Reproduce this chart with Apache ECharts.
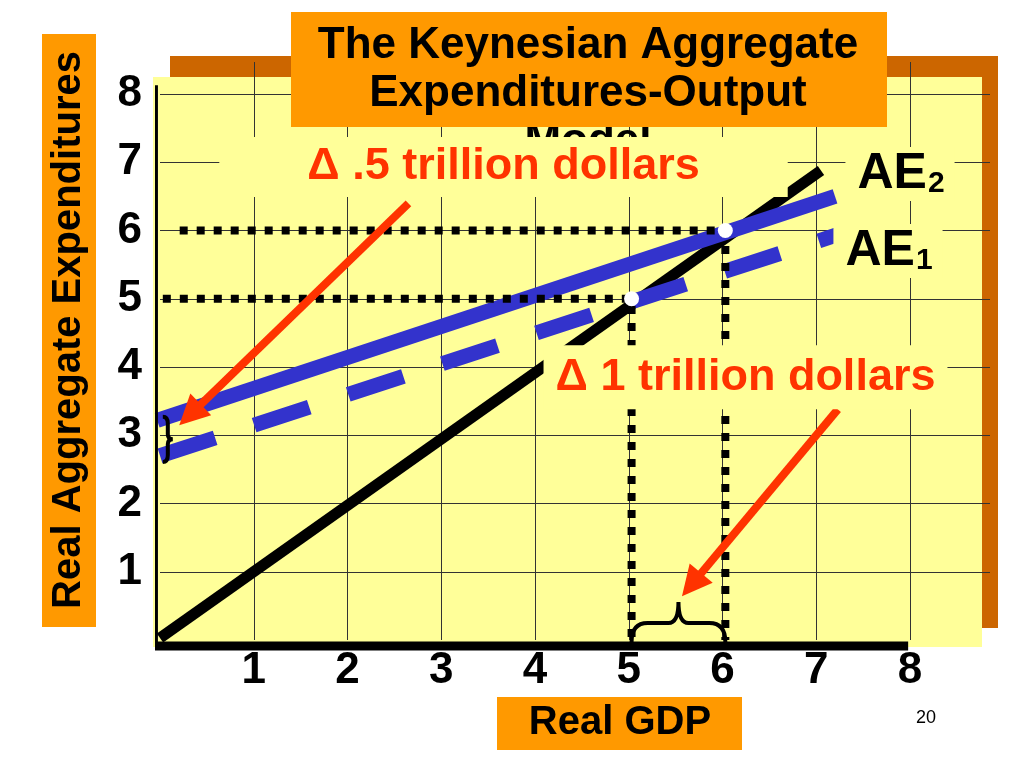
<!DOCTYPE html>
<html><head><meta charset="utf-8">
<script src="https://cdn.jsdelivr.net/npm/echarts@6/dist/echarts.min.js"></script>
<style>html,body{margin:0;padding:0;background:#fff}#c{width:1024px;height:768px}</style>
</head><body><div id="c"></div>
<script>
// ---- data ----
const xTickLabels = ['1','2','3','4','5','6','7','8'];
const yTickLabels = ['1','2','3','4','5','6','7','8'];
const line45 = [[0,0.03],[7.05,6.88]];
const ae2 = [[-0.03,3.22],[7.2,6.5]];
const ae1 = [[0,2.7],[7.25,5.95]];
const eqPoints = [[5.03,5],[6.03,6]];
const dottedAt5 = [[0.03,5],[5.03,5],[5.03,0]];
const dottedAt6 = [[0.21,6],[6.03,6],[6.03,0]];
const axisFrame = [[-0.07,8.13],[-0.07,-0.088],[7.98,-0.088]];
const arrowHalf = [[2.65,6.40],[0.32,3.30]];
const arrowOne = [[7.23,3.38],[5.67,0.81]];
const braceBottom = [5.03,6.03,-0.03];
const braceLeft = [0.03,2.61,3.27];
const annotationTexts = ['Δ .5 trillion dollars','Δ 1 trillion dollars','AE','AE'];
const annotationSubs = ['','','2','1'];
const annotationAt = [[3.664,6.93],[6.245,3.85],[7.893,6.83],[7.765,5.70]];
const titleLines = ['The Keynesian Aggregate','Expenditures-Output','Model'];
const yName = 'Real Aggregate Expenditures';
const xName = 'Real GDP';
const pageNo = '20';

const FONT = "'Liberation Sans', Arial, Helvetica, sans-serif";
const RED = '#FF3300', BLUE = '#3333CC', YEL = '#FFFF99', ORANGE = '#FF9900';

function tickFmt(labels){
  return function(v){
    const i = Math.round(v);
    return (Math.abs(v - i) < 1e-6 && i >= 1 && i <= labels.length) ? labels[i-1] : '';
  };
}

const chart = echarts.init(document.getElementById('c'), null, {renderer:'canvas', width:1024, height:768});

const annData = annotationTexts.map(function(t, i){
  const base = {value: annotationAt[i]};
  if (!annotationSubs[i]) {
    base.label = {show:true, position:'inside', formatter:t, color:RED, fontSize:45, fontWeight:'bold',
      fontFamily:FONT, lineHeight:45, backgroundColor:YEL, opacity:1,
      padding: i === 0 ? [8,88,7,88] : [10,12,9,12]};
  } else {
    base.label = {show:true, position:'inside', formatter:'{a|' + t + '}{s|' + annotationSubs[i] + '}',
      backgroundColor:YEL, padding:[2,10,2,12], opacity:1,
      rich:{
        a:{fontSize:50, lineHeight:50, fontWeight:'bold', color:'#000', fontFamily:FONT, verticalAlign:'top'},
        s:{fontSize:30, lineHeight:30, fontWeight:'bold', color:'#000', fontFamily:FONT, verticalAlign:'bottom', padding:[32,0,0,1]}
      }};
  }
  return base;
});

const axisCommon = {
  type:'value', interval:1, min:0,
  axisLine:{show:false}, axisTick:{show:false},
  splitLine:{show:true, showMinLine:false, showMaxLine:false, lineStyle:{color:'#333', width:1}}
};

const option = {
  backgroundColor:'#ffffff',
  animation:false,
  grid:{left:160, top:62, width:830, height:578, containLabel:false},
  xAxis: Object.assign({}, axisCommon, {max:8.853,
    axisLabel:{margin:9, color:'#000', fontSize:44, fontWeight:'bold', fontFamily:FONT, formatter:tickFmt(xTickLabels)}}),
  yAxis: Object.assign({}, axisCommon, {max:8.47,
    axisLabel:{margin:18, color:'#000', fontSize:44, fontWeight:'bold', fontFamily:FONT, formatter:tickFmt(yTickLabels)}}),
  graphic:[
    {type:'rect', z:-10, silent:true, shape:{x:170,y:56,width:828,height:572}, style:{fill:'#CC6600'}},
    {type:'rect', z:-9, silent:true, shape:{x:153,y:77,width:829,height:570}, style:{fill:YEL}},
    {type:'text', z:4, silent:true, x:588, y:142, style:{text:titleLines[2], font:'bold 44px ' + FONT, fill:'#000', align:'center', verticalAlign:'middle', textAlign:'center', textVerticalAlign:'middle'}},
    {type:'rect', z:10, silent:true, shape:{x:291,y:12,width:596,height:115}, style:{fill:ORANGE}},
    {type:'text', z:11, silent:true, x:588, y:70, style:{text:titleLines[0] + '\n' + titleLines[1], font:'bold 44px ' + FONT, lineHeight:48, fill:'#000', align:'center', verticalAlign:'middle', textAlign:'center', textVerticalAlign:'middle'}},
    {type:'rect', z:10, silent:true, shape:{x:42,y:34,width:54,height:593}, style:{fill:ORANGE}},
    {type:'text', z:11, silent:true, x:69, y:330, rotation:Math.PI/2, style:{text:yName, font:'bold 40px ' + FONT, fill:'#000', align:'center', verticalAlign:'middle', textAlign:'center', textVerticalAlign:'middle'}},
    {type:'rect', z:10, silent:true, shape:{x:497,y:697,width:245,height:53}, style:{fill:ORANGE}},
    {type:'text', z:11, silent:true, x:620, y:723, style:{text:xName, font:'bold 40px ' + FONT, fill:'#000', align:'center', verticalAlign:'middle', textAlign:'center', textVerticalAlign:'middle'}},
    {type:'text', z:11, silent:true, x:926, y:718, style:{text:pageNo, font:'18px ' + FONT, fill:'#000', align:'center', verticalAlign:'middle', textAlign:'center', textVerticalAlign:'middle'}}
  ],
  series:[
    {name:'45-degree line', type:'line', data:line45, symbol:'none', z:2, silent:true, clip:false,
      lineStyle:{color:'#000', width:11, cap:'butt'}},
    {name:'AE1', type:'line', data:ae1, symbol:'none', z:2, silent:true,
      lineStyle:{color:BLUE, width:15, type:[58,41], cap:'butt'}},
    {name:'AE2', type:'line', data:ae2, symbol:'none', z:2, silent:true, clip:false,
      lineStyle:{color:BLUE, width:15, cap:'butt'}},
    {name:'guide5', type:'line', data:dottedAt5, symbol:'none', z:3, silent:true,
      lineStyle:{color:'#000', width:8, type:[8,9], cap:'butt'}},
    {name:'guide6', type:'line', data:dottedAt6, symbol:'none', z:3, silent:true,
      lineStyle:{color:'#000', width:8, type:[8,9], cap:'butt'}},
    {name:'axes', type:'line', data:axisFrame, symbol:'none', z:3, silent:true, clip:false,
      lineStyle:{color:'#000', width:9, join:'miter', cap:'butt'}},
    {name:'arrows', type:'lines', coordinateSystem:'cartesian2d', z:4, silent:true,
      symbol:['none','path://M15,0 L30,30 L0,30 Z'], symbolSize:30,
      lineStyle:{color:RED, width:8, opacity:1, curveness:0},
      data:[{coords:arrowHalf},{coords:arrowOne}]},
    {name:'equilibria', type:'scatter', data:eqPoints, symbolSize:15, z:4, silent:true,
      itemStyle:{color:'#ffffff', opacity:1}},
    {name:'braceBottom', type:'custom', coordinateSystem:'cartesian2d', z:4, silent:true, clip:false,
      data:[braceBottom],
      renderItem:function(params, api){
        const a = api.coord([api.value(0), api.value(2)]);
        const b = api.coord([api.value(1), api.value(2)]);
        const x0 = a[0], x1 = b[0], y = a[1], mid = (x0 + x1) / 2, arm = 19, peak = 40;
        const d = 'M' + x0 + ',' + y + ' Q' + x0 + ',' + (y-arm) + ' ' + (x0+16) + ',' + (y-arm) +
          ' L' + (mid-10) + ',' + (y-arm) + ' Q' + mid + ',' + (y-arm) + ' ' + mid + ',' + (y-peak) +
          ' Q' + mid + ',' + (y-arm) + ' ' + (mid+10) + ',' + (y-arm) +
          ' L' + (x1-16) + ',' + (y-arm) + ' Q' + x1 + ',' + (y-arm) + ' ' + x1 + ',' + y;
        return {type:'path', shape:{pathData:d, x:x0, y:y-peak, width:x1-x0, height:peak},
          style:{stroke:'#000', lineWidth:4, fill:'none'}};
      }},
    {name:'braceLeft', type:'custom', coordinateSystem:'cartesian2d', z:4, silent:true, clip:false,
      data:[braceLeft],
      renderItem:function(params, api){
        const t = api.coord([api.value(0), api.value(2)]);
        const bt = api.coord([api.value(0), api.value(1)]);
        const x0 = t[0], yt = t[1], yb = bt[1], ym = (yt + yb) / 2;
        const d = 'M' + x0 + ',' + yt + ' Q' + (x0+5) + ',' + yt + ' ' + (x0+5) + ',' + (yt+7) +
          ' L' + (x0+5) + ',' + (ym-5) + ' Q' + (x0+5) + ',' + ym + ' ' + (x0+10) + ',' + ym +
          ' Q' + (x0+5) + ',' + ym + ' ' + (x0+5) + ',' + (ym+5) +
          ' L' + (x0+5) + ',' + (yb-7) + ' Q' + (x0+5) + ',' + yb + ' ' + x0 + ',' + yb;
        return {type:'path', shape:{pathData:d, x:x0, y:yt, width:10, height:yb-yt},
          style:{stroke:'#000', lineWidth:4, fill:'none'}};
      }},
    {name:'annotations', type:'scatter', z:5, silent:true, symbolSize:1,
      itemStyle:{color:'rgba(0,0,0,0)', opacity:1}, data:annData}
  ]
};
chart.setOption(option);
</script>
</body></html>
